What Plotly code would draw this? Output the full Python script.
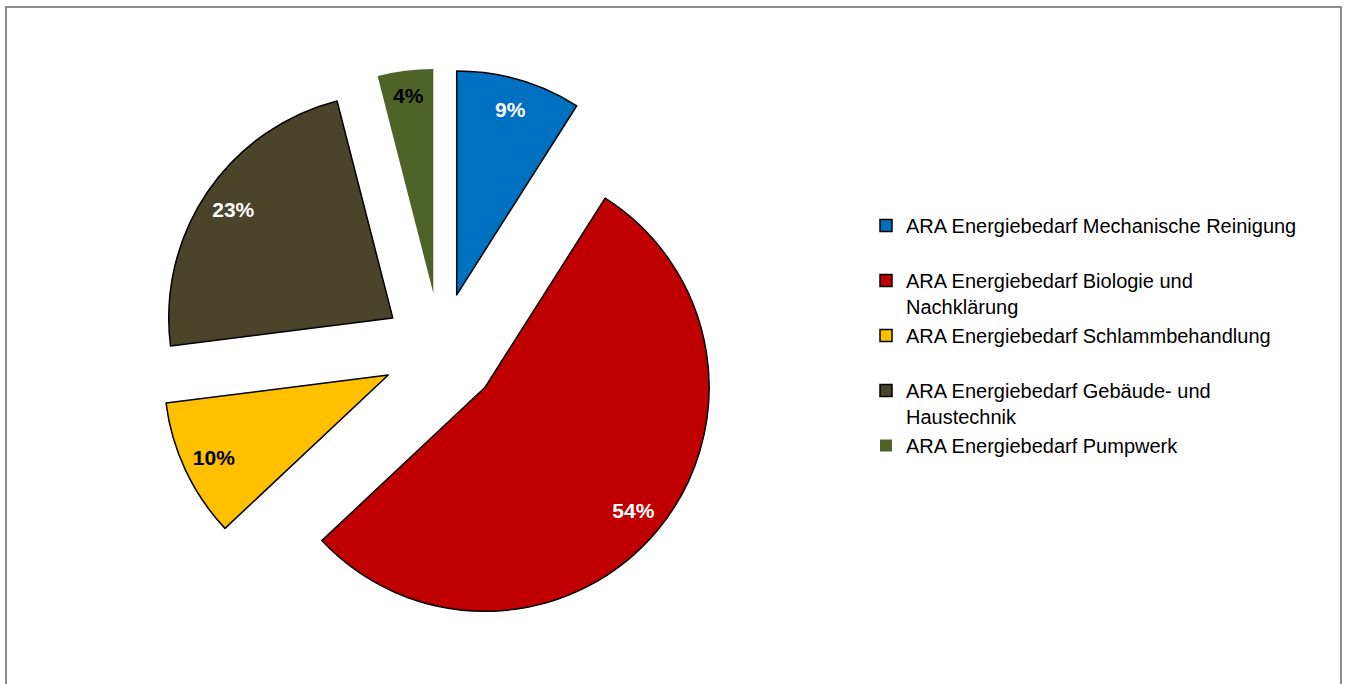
import plotly.graph_objects as go

# Energy demand of the wastewater treatment plant (ARA), share per area
categories = [
    "ARA Energiebedarf Mechanische Reinigung",
    "ARA Energiebedarf Biologie und<br>Nachklärung",
    "ARA Energiebedarf Schlammbehandlung",
    "ARA Energiebedarf Gebäude- und<br>Haustechnik",
    "ARA Energiebedarf Pumpwerk",
]
shares = [9, 54, 10, 23, 4]

colors = ["#0070C0", "#C00000", "#FFC000", "#4A452A", "#4F6228"]
outline_widths = [1.5, 1.5, 1.5, 1.5, 0]
label_colors = ["white", "white", "black", "white", "black"]
explode = 0.258

# every legend entry takes two lines so the entries are evenly spaced
legend_names = [c if "<br>" in c else c + "<br> " for c in categories]

domain = dict(x=[0.1176, 0.5351], y=[0.0757, 0.8997])

fig = go.Figure()

# exploded pie with the slice fills and outlines
fig.add_trace(go.Pie(
    labels=legend_names,
    values=shares,
    sort=False,
    direction="clockwise",
    rotation=0,
    pull=[explode] * len(shares),
    marker=dict(colors=colors, line=dict(color="black", width=outline_widths)),
    textinfo="none",
    hoverinfo="label+percent",
    domain=domain,
    showlegend=True,
))

# percentage labels, set near the outer rim of each slice
fig.add_trace(go.Pie(
    labels=legend_names,
    values=shares,
    sort=False,
    direction="clockwise",
    rotation=0,
    pull=[explode] * len(shares),
    hole=0.72,
    marker=dict(colors=["rgba(0,0,0,0)"] * len(shares), line=dict(width=0)),
    textinfo="percent",
    textposition="inside",
    insidetextorientation="horizontal",
    insidetextfont=dict(family="Liberation Sans, Arial, sans-serif", size=21,
                        color=label_colors, weight="bold"),
    hoverinfo="skip",
    domain=domain,
    showlegend=False,
))

fig.update_layout(
    width=1350,
    height=684,
    margin=dict(l=0, r=0, t=0, b=0),
    paper_bgcolor="white",
    plot_bgcolor="white",
    font=dict(family="Liberation Sans, Arial, sans-serif", color="#000000"),
    legend=dict(
        x=866 / 1350,
        xanchor="left",
        y=1 - 206 / 684,
        yanchor="top",
        valign="top",
        font=dict(family="Liberation Sans, Arial, sans-serif", size=20, color="#000000"),
        bgcolor="rgba(0,0,0,0)",
        traceorder="normal",
    ),
    shapes=[
        dict(type="rect", xref="paper", yref="paper",
             x0=6 / 1350, x1=1341 / 1350, y0=-0.05, y1=1 - 7 / 684,
             line=dict(color="#8C8C8C", width=2), fillcolor="rgba(0,0,0,0)",
             layer="below"),
    ],
)

fig.write_html("out.html")
